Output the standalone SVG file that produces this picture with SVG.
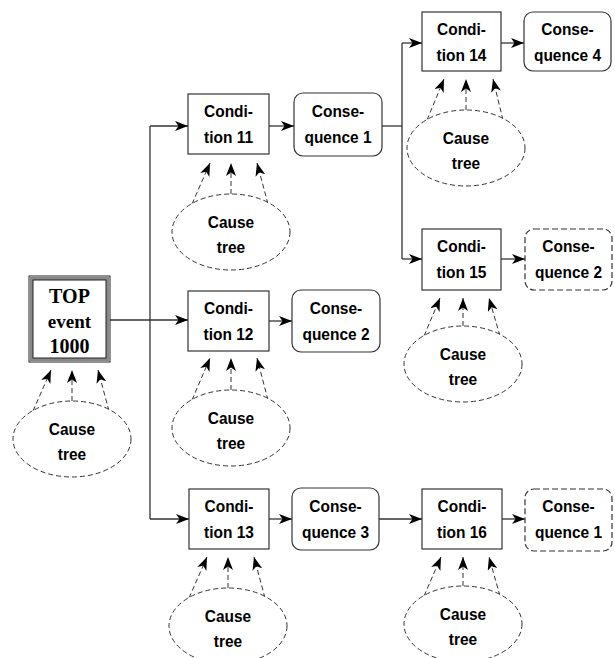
<svg xmlns="http://www.w3.org/2000/svg" width="615" height="658" viewBox="0 0 615 658">
<defs>
<marker id="arr" viewBox="0 0 13 10" refX="13" refY="5" markerWidth="13" markerHeight="10" markerUnits="userSpaceOnUse" orient="auto">
<path d="M0,0 L13,5 L0,10 L3.5,5 z" fill="#000"/>
</marker>
<style>
.box{fill:#fff;stroke:#333;stroke-width:1.2}
.cons{fill:#fff;stroke:#333;stroke-width:1.2}
.consd{fill:#fff;stroke:#333;stroke-width:1.2;stroke-dasharray:6,3}
.ell{fill:#fff;stroke:#333;stroke-width:1;stroke-dasharray:5,3}
.ln{fill:none;stroke:#333;stroke-width:1.3}
.la{fill:none;stroke:#333;stroke-width:1.3;marker-end:url(#arr)}
.da{fill:none;stroke:#333;stroke-width:1;stroke-dasharray:5,3;marker-end:url(#arr)}
.t{font-family:"Liberation Sans",Arial,sans-serif;font-weight:bold;font-size:17px;text-anchor:middle;fill:#000}
.s{font-family:"Liberation Serif","Times New Roman",serif;font-weight:bold;text-anchor:middle;fill:#000}
</style>
</defs>
<g id="connectors">
<path class="ln" d="M110,320 H150"/>
<path class="ln" d="M150,126 V519"/>
<path class="la" d="M150,126 H188"/>
<path class="la" d="M150,320 H188"/>
<path class="la" d="M150,519 H189"/>
<path class="la" d="M269,126 H294"/>
<path class="la" d="M269,321 H292"/>
<path class="la" d="M269,519 H292"/>
<path class="ln" d="M382,126 H402"/>
<path class="ln" d="M402,43 V259"/>
<path class="la" d="M402,43 H422"/>
<path class="la" d="M402,259 H422"/>
<path class="la" d="M501,43 H524"/>
<path class="la" d="M501,259 H525"/>
<path class="la" d="M379,519 H422"/>
<path class="la" d="M502,519 H525"/>
<path class="da" d="M33,411 L51,370"/><path class="da" d="M72,401 V370"/><path class="da" d="M109,411 L98,370"/>
<path class="da" d="M192,204 L210,163"/><path class="da" d="M231,194 V163"/><path class="da" d="M268,204 L257,163"/>
<path class="da" d="M192,400 L210,358"/><path class="da" d="M231,390 V358"/><path class="da" d="M268,400 L257,358"/>
<path class="da" d="M189,598 L207,557"/><path class="da" d="M228,588 V557"/><path class="da" d="M265,598 L254,557"/>
<path class="da" d="M427,120 L444,79"/><path class="da" d="M466,110 V79"/><path class="da" d="M503,120 L493,79"/>
<path class="da" d="M424,336 L440,298"/><path class="da" d="M463,326 V298"/><path class="da" d="M500,336 L489,298"/>
<path class="da" d="M424,596 L441,557"/><path class="da" d="M463,586 V557"/><path class="da" d="M500,596 L489,557"/>
</g>
<g id="top">
<rect x="29" y="276" width="81" height="86" fill="#fff" stroke="#222" stroke-width="1"/>
<rect x="31.5" y="278.5" width="76" height="81" fill="none" stroke="#888" stroke-width="3"/>
<rect x="33" y="280" width="73" height="78" fill="none" stroke="#222" stroke-width="1"/>
<text class="s" x="69.5" y="303" font-size="20">TOP</text>
<text class="s" x="69.5" y="328" font-size="19">event</text>
<text class="s" x="69.5" y="353" font-size="20">1000</text>
</g>
<g id="cause-top"><ellipse class="ell" cx="72" cy="439" rx="59" ry="38"/><text class="t" transform="translate(72,435) scale(0.91,1)">Cause</text><text class="t" transform="translate(72,460) scale(0.91,1)">tree</text></g>
<g id="cond11"><rect class="box" x="188" y="94" width="81" height="60"/><text class="t" transform="translate(228.5,117) scale(0.91,1)">Condi-</text><text class="t" transform="translate(228.5,143) scale(0.91,1)">tion 11</text></g>
<g id="cause11"><ellipse class="ell" cx="231" cy="232" rx="59" ry="38"/><text class="t" transform="translate(231,228) scale(0.91,1)">Cause</text><text class="t" transform="translate(231,253) scale(0.91,1)">tree</text></g>
<g id="cons1a"><rect class="cons" x="294" y="93" width="88" height="63" rx="9"/><text class="t" transform="translate(338,117) scale(0.91,1)">Conse-</text><text class="t" transform="translate(338,143) scale(0.91,1)">quence 1</text></g>
<g id="cond12"><rect class="box" x="188" y="291" width="81" height="60"/><text class="t" transform="translate(228.5,314) scale(0.91,1)">Condi-</text><text class="t" transform="translate(228.5,340) scale(0.91,1)">tion 12</text></g>
<g id="cause12"><ellipse class="ell" cx="231" cy="428" rx="59" ry="38"/><text class="t" transform="translate(231,424) scale(0.91,1)">Cause</text><text class="t" transform="translate(231,449) scale(0.91,1)">tree</text></g>
<g id="cons2a"><rect class="cons" x="292" y="290" width="88" height="62" rx="9"/><text class="t" transform="translate(336,314) scale(0.91,1)">Conse-</text><text class="t" transform="translate(336,340) scale(0.91,1)">quence 2</text></g>
<g id="cond13"><rect class="box" x="189" y="489" width="80" height="60"/><text class="t" transform="translate(229,512) scale(0.91,1)">Condi-</text><text class="t" transform="translate(229,538) scale(0.91,1)">tion 13</text></g>
<g id="cause13"><ellipse class="ell" cx="228" cy="626" rx="59" ry="38"/><text class="t" transform="translate(228,622) scale(0.91,1)">Cause</text><text class="t" transform="translate(228,647) scale(0.91,1)">tree</text></g>
<g id="cons3"><rect class="cons" x="292" y="488" width="87" height="62" rx="9"/><text class="t" transform="translate(335.5,512) scale(0.91,1)">Conse-</text><text class="t" transform="translate(335.5,538) scale(0.91,1)">quence 3</text></g>
<g id="cond14"><rect class="box" x="422" y="12" width="79" height="59"/><text class="t" transform="translate(461.5,35) scale(0.91,1)">Condi-</text><text class="t" transform="translate(461.5,61) scale(0.91,1)">tion 14</text></g>
<g id="cause14"><ellipse class="ell" cx="466" cy="148" rx="59" ry="38"/><text class="t" transform="translate(466,144) scale(0.91,1)">Cause</text><text class="t" transform="translate(466,169) scale(0.91,1)">tree</text></g>
<g id="cons4"><rect class="cons" x="524" y="12" width="87" height="59" rx="9"/><text class="t" transform="translate(567.5,35) scale(0.91,1)">Conse-</text><text class="t" transform="translate(567.5,61) scale(0.91,1)">quence 4</text></g>
<g id="cond15"><rect class="box" x="422" y="229" width="79" height="61"/><text class="t" transform="translate(461.5,252) scale(0.91,1)">Condi-</text><text class="t" transform="translate(461.5,278) scale(0.91,1)">tion 15</text></g>
<g id="cause15"><ellipse class="ell" cx="463" cy="364" rx="59" ry="38"/><text class="t" transform="translate(463,360) scale(0.91,1)">Cause</text><text class="t" transform="translate(463,385) scale(0.91,1)">tree</text></g>
<g id="cons2b"><rect class="consd" x="525" y="229" width="87" height="61" rx="9"/><text class="t" transform="translate(568.5,252) scale(0.91,1)">Conse-</text><text class="t" transform="translate(568.5,278) scale(0.91,1)">quence 2</text></g>
<g id="cond16"><rect class="box" x="422" y="489" width="80" height="60"/><text class="t" transform="translate(462,512) scale(0.91,1)">Condi-</text><text class="t" transform="translate(462,538) scale(0.91,1)">tion 16</text></g>
<g id="cause16"><ellipse class="ell" cx="463" cy="624" rx="59" ry="38"/><text class="t" transform="translate(463,620) scale(0.91,1)">Cause</text><text class="t" transform="translate(463,645) scale(0.91,1)">tree</text></g>
<g id="cons1b"><rect class="consd" x="525" y="489" width="87" height="62" rx="9"/><text class="t" transform="translate(568.5,512) scale(0.91,1)">Conse-</text><text class="t" transform="translate(568.5,538) scale(0.91,1)">quence 1</text></g>
</svg>
